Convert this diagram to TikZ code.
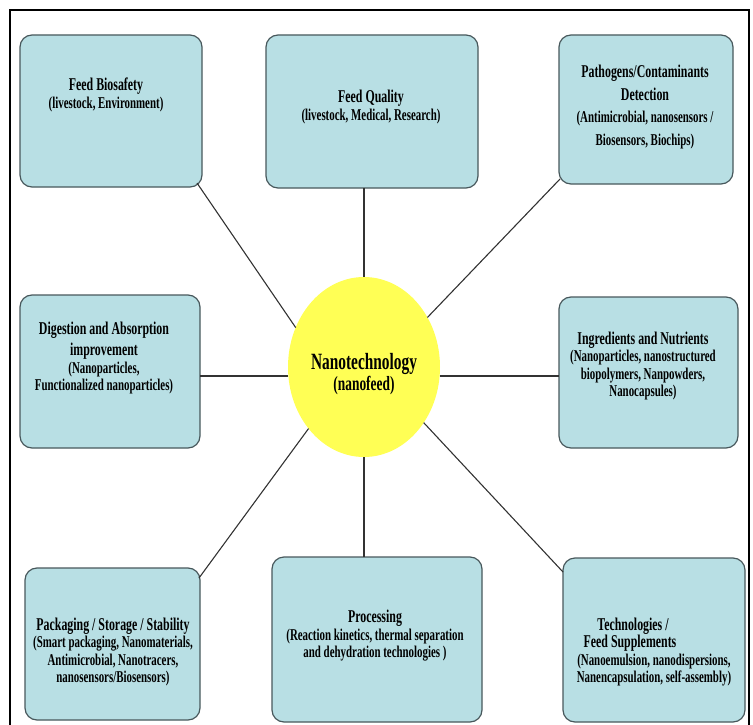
\documentclass[tikz,border=0pt]{standalone}
\usepackage{fontspec}
\setmainfont{Liberation Serif}
\newfontfamily\nfont[FakeStretch=0.66]{Liberation Serif}
\usetikzlibrary{calc,shapes.geometric}
\definecolor{boxfill}{RGB}{184,223,228}
\definecolor{boxline}{RGB}{72,88,92}
\definecolor{nanoyellow}{RGB}{255,255,85}
\definecolor{linkc}{RGB}{50,50,50}
\newcommand{\ttl}{\fontsize{18}{17.5}\selectfont}
\newcommand{\sbt}{\fontsize{16.5}{17.5}\selectfont}
\begin{document}
\begin{tikzpicture}[x=1pt,y=-1pt,
  box/.style={draw=boxline, line width=1.2pt, fill=boxfill, rounded corners=12pt,
              inner sep=0pt, outer sep=0pt},
  lbl/.style={align=center, font=\nfont\bfseries\sbt, inner sep=0pt, text=black},
  link/.style={draw=linkc, line width=1.1pt},
  hlink/.style={draw=linkc, line width=1.8pt},
  frm/.style={line width=1.8pt, draw=black}]
\useasboundingbox (0,0) rectangle (753,725);
\draw[frm] (10,725) -- (10,10) -- (749,10) -- (749,725);

% boxes
\node[box, minimum width=182pt, minimum height=152pt] (bio)  at (111,111) {};
\node[box, minimum width=212pt, minimum height=153pt] (qual) at (372,111.5) {};
\node[box, minimum width=174pt, minimum height=149pt] (path) at (646,109.5) {};
\node[box, minimum width=180pt, minimum height=153pt] (dig)  at (110,371.5) {};
\node[box, minimum width=179pt, minimum height=151pt] (ingr) at (648.5,372.5) {};
\node[box, minimum width=175pt, minimum height=152pt] (pack) at (112.5,644) {};
\node[box, minimum width=210pt, minimum height=165pt] (proc) at (377,639.5) {};
\node[box, minimum width=182pt, minimum height=164pt] (tech) at (654,640) {};

% centre
\node[ellipse, fill=nanoyellow, minimum width=152pt, minimum height=180pt,
      inner sep=0pt, outer sep=0pt] (nano) at (364,367) {};

% connectors
\draw[link] ($(bio.south east)+(-5,-4)$) -- (nano.150);
\draw[link] (nano.north |- qual.south) -- (nano.north);
\draw[link] ($(path.south west)+(1,-5)$) -- (nano.38);
\draw[hlink] (dig.east |- nano.187) -- (nano.187);
\draw[hlink] (nano.-7) -- (ingr.west |- nano.-7);
\draw[link] ($(pack.north east)+(-1,10)$) -- (nano.228);
\draw[link] (nano.south) -- (nano.south |- proc.north);
\draw[link] (nano.317) -- ($(tech.north west)+(0,14)$);

% labels
\node[lbl] (bioT) at (106,95) {{\ttl Feed Biosafety}\\(livestock, Environment)};
\node[lbl] (qualT) at (371,107) {{\ttl Feed Quality}\\(livestock, Medical, Research)};
\node[lbl] (pathT) at (645,107) {{\ttl Pathogens/Contaminants}\\[5pt]{\ttl Detection}\\[5pt](Antimicrobial, nanosensors /\\[5pt]Biosensors, Biochips)};
\node[lbl] (digT) at (104,358) {{\ttl Digestion and Absorption}\\[4pt]{\ttl improvement}\\(Nanoparticles,\\Functionalized nanoparticles)};
\node[lbl] (ingrT) at (643,366) {{\ttl Ingredients and Nutrients}\\(Nanoparticles, nanostructured\\biopolymers, Nanpowders,\\Nanocapsules)};
\node[lbl] (packT) at (113,652) {{\ttl Packaging / Storage / Stability}\\(Smart packaging, Nanomaterials,\\Antimicrobial, Nanotracers,\\nanosensors/Biosensors)};
\node[lbl] (procT) at (375,636) {{\ttl Processing}\\(Reaction kinetics, thermal separation\\and dehydration technologies )};
\node[lbl] (techT) at (654,652) {{\ttl Technologies /\hspace*{42pt}\null}\\{\ttl Feed Supplements\hspace*{48pt}\null}\\(Nanoemulsion, nanodispersions,\\Nanencapsulation, self-assembly)};
\node[lbl] (nanoT) at (364,374) {{\fontsize{23.3}{37}\selectfont Nanotechnology}\\{\fontsize{20.3}{37}\selectfont (nanofeed)}};
\end{tikzpicture}
\end{document}
